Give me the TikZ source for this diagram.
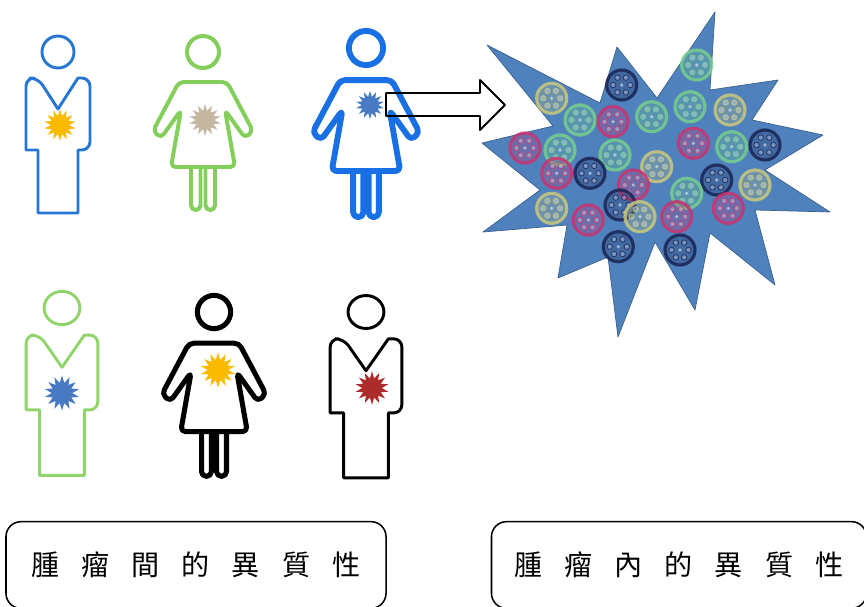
\documentclass[tikz,border=0pt]{standalone}
\usepackage{fontspec}
\newfontfamily\cjk{Noto Sans CJK TC}
\usetikzlibrary{shapes.geometric}

\definecolor{manblue}{RGB}{40,118,212}
\definecolor{womanblue}{RGB}{24,112,228}
\definecolor{womangreen}{RGB}{132,206,92}
\definecolor{mangreen}{RGB}{146,212,108}
\definecolor{tumyellow}{RGB}{250,186,0}
\definecolor{tumtan}{RGB}{196,182,160}
\definecolor{tumblue}{RGB}{72,122,196}
\definecolor{tumred}{RGB}{172,44,44}
\definecolor{massblue}{RGB}{79,129,189}
\definecolor{cgreen}{RGB}{118,206,140}
\definecolor{ckhaki}{RGB}{202,200,124}
\definecolor{cmag}{RGB}{200,52,112}
\definecolor{cnavy}{RGB}{26,36,84}

\newcommand{\kgap}{\hspace{0.78em}}

\tikzset{
  man/.pic={
    \draw (0,0) circle (16);
    \draw (-20,26) -- (0,57) -- (20,26) [rounded corners=7] -- (32,26) -- (32,98) [sharp corners]
      -- (20,98) -- (20,161) -- (-20,161) -- (-20,98) -- (-32,98) [rounded corners=7] -- (-32,26) -- cycle;
  },
  woman/.pic={
    \draw (0,0) circle (16);
    \draw[rounded corners=4] (-22,58) -- (-42,86) -- (-50,79) -- (-24,30) -- (24,30) -- (50,79)
      -- (42,86) -- (22,58) -- (32,115) -- (-32,115) -- cycle;
    \draw[rounded corners=4] (2.5,115) -- (2.5,158) -- (12,158) -- (12,115);
    \draw[rounded corners=4] (-2.5,115) -- (-2.5,158) -- (-12,158) -- (-12,115);
  },
  cell/.pic={
    \draw[line width=2.7pt, draw opacity=0.85, fill=., fill opacity=0.25] (0,0) circle (15);
    \foreach \a in {0,60,...,300}
      \draw[line width=0.7pt, draw opacity=0.8, fill=white, fill opacity=0.3] (\a:8.5) circle (2.7);
    \fill[white, opacity=0.5] (0,0) circle (1.8);
  },
  burst/.style={star, star points=14, star point ratio=1.7, minimum size=0.95cm, inner sep=0pt},
  labelbox/.style={draw, line width=1.3pt, rounded corners=0.45cm, minimum width=11.4cm,
    minimum height=2.6cm, font=\cjk\fontsize{24}{24}\selectfont},
}

\begin{document}
\begin{tikzpicture}[x=0.03cm, y=-0.03cm, line join=round]
\useasboundingbox (0,0) rectangle (864,606);

%% 人
\pic[manblue, line width=2.5pt] at (58,52) {man};
\pic[womangreen, line width=3.4pt] at (203,52) {woman};
\pic[womanblue, line width=5pt, scale=1.07] at (366,48) {woman};
\pic[mangreen, line width=2.5pt, xscale=1.12, yscale=1.04] at (62,308) {man};
\pic[black, line width=4.3pt, scale=1.04] at (214,312) {woman};
\pic[black, line width=2.5pt, xscale=1.12, yscale=1.03] at (366,312) {man};

%% 腫瘍
\node[burst, fill=tumyellow] (t1) at (60,125) {};
\node[burst, fill=tumtan] (t2) at (205,120) {};
\node[burst, fill=tumblue, minimum size=0.85cm] (t3) at (370,105) {};
\node[burst, fill=tumblue, minimum size=1.05cm] (t4) at (62,393) {};
\node[burst, fill=tumyellow, minimum size=1.05cm] (t5) at (218,370) {};
\node[burst, fill=tumred, minimum size=1.0cm] (t6) at (372,388) {};

%% 矢印
\draw[line width=1.6pt] (386,93) -- (480,93) -- (480,80) -- (505,105) -- (480,130)
  -- (480,116) -- (386,116) -- cycle;

%% 腫瘍内
\draw[fill=massblue, draw=massblue!75!black, line width=0.6pt]
  (482,143) -- (553,126) -- (487,45) -- (600,103) -- (617,47) -- (657,98) -- (715,12)
  -- (710,90) -- (778,80) -- (752,120) -- (823,135) -- (765,170) -- (830,212) -- (755,210)
  -- (775,285) -- (710,233) -- (695,310) -- (655,242) -- (618,337) -- (608,257)
  -- (558,278) -- (567,225) -- (483,232) -- (540,190) -- cycle;

\foreach \cx/\cy/\cc in {551.7/98.3/ckhaki, 621.7/85/cnavy, 696.7/65/cgreen, 580/120/cgreen,
    613/121.7/cmag, 651.7/116.7/cgreen, 690/106.7/cgreen, 730/110/ckhaki, 525/148/cmag,
    560/150/cgreen, 615/155/cgreen, 693.3/143.3/cmag, 731.7/146.7/cgreen, 765/145/cnavy,
    556.7/173.3/cmag, 590/173.3/cnavy, 656.7/166.7/ckhaki, 633.3/185/cmag, 716.7/180/cnavy,
    755/185/ckhaki, 686.7/193.3/cgreen, 551.7/208.3/ckhaki, 588.3/220/cmag, 620/205/cnavy,
    640/216.7/ckhaki, 676.7/216.7/cmag, 728.3/208.3/cmag, 618.3/246.7/cnavy, 680/250/cnavy}
  \pic[\cc] at (\cx,\cy) {cell};

%% 枠
\node[labelbox] (inter) at (196,565) {腫\kgap 瘤\kgap 間\kgap 的\kgap 異\kgap 質\kgap 性};
\node[labelbox, minimum width=11.25cm] (intra) at (679,565) {腫\kgap 瘤\kgap 內\kgap 的\kgap 異\kgap 質\kgap 性};

\end{tikzpicture}
\end{document}
